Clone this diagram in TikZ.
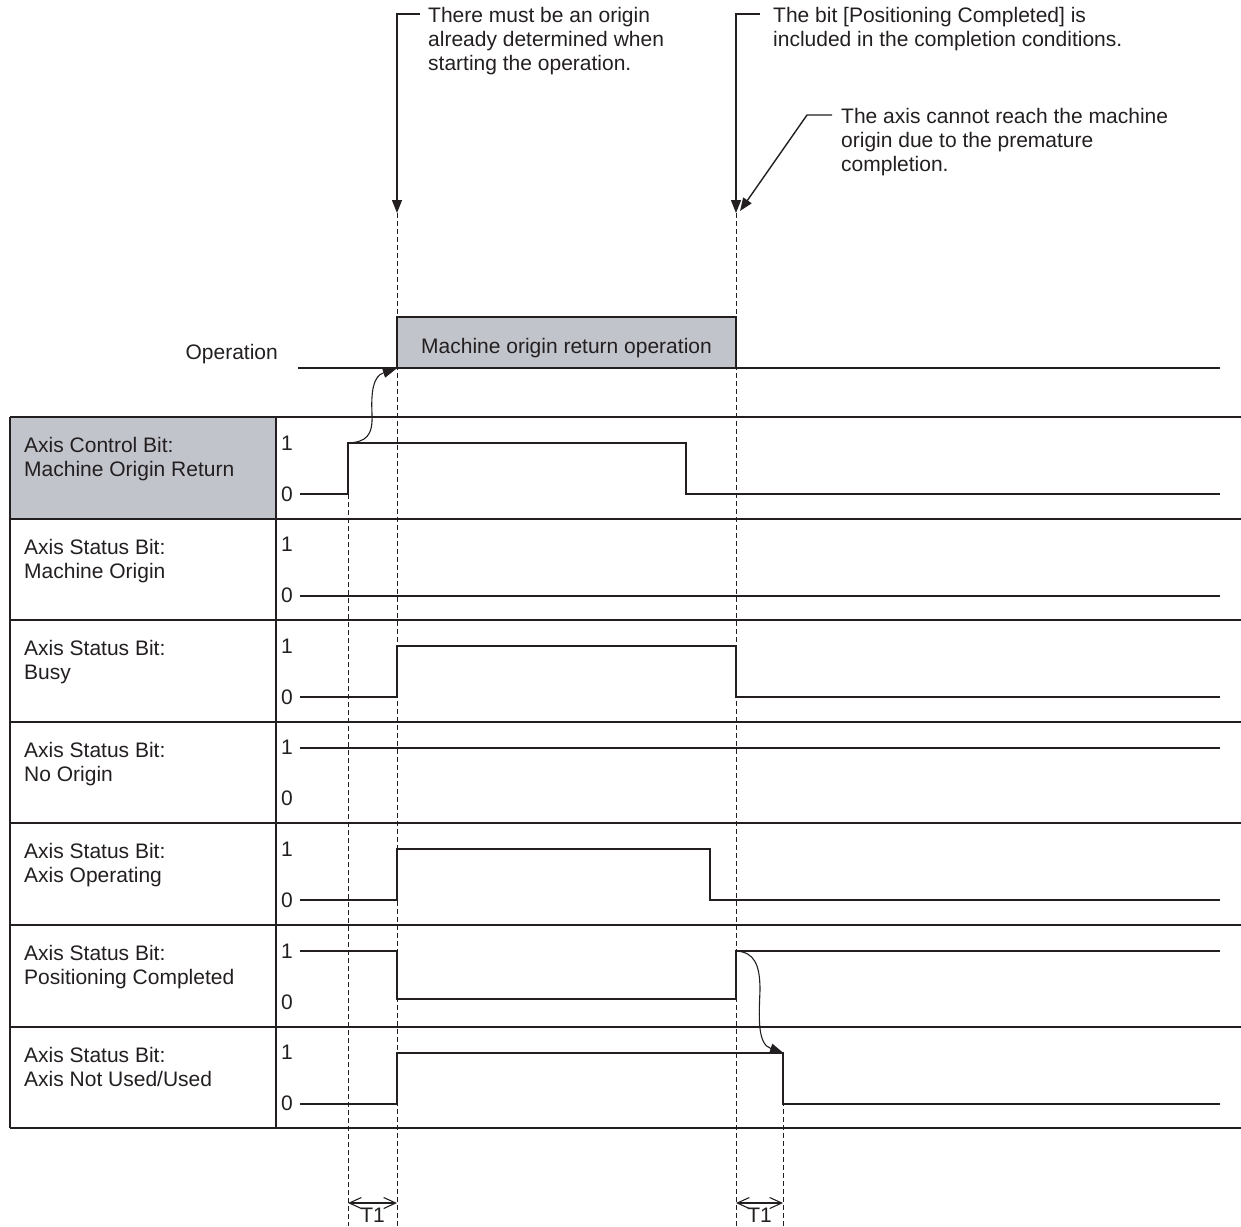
\documentclass[tikz,border=0pt]{standalone}
\usepackage{fontspec}
\setmainfont{Liberation Sans}
\usetikzlibrary{arrows.meta}
\definecolor{ink}{RGB}{35,31,32}
\definecolor{boxgray}{RGB}{194,196,203}
\begin{document}
\begin{tikzpicture}[x=1pt,y=-1pt,
  font=\fontsize{21}{24}\selectfont, text=ink,
  tbl/.style={line width=2pt, draw=ink},
  sig/.style={line width=2pt, draw=ink},
  guide/.style={draw=ink, line width=1pt, dash pattern=on 5pt off 3pt},
  celltext/.style={anchor=north west, align=left, inner sep=0pt},
  lvl/.style={anchor=base west, inner sep=0pt},
  note/.style={anchor=north west, align=left, inner sep=0pt},
  callout/.style={draw=ink, line width=1.4pt, -{Triangle[length=13pt,width=10pt]}},
  causal/.style={draw=ink, line width=1.1pt, -{Triangle[length=13pt,width=10pt]}},
  spanarrow/.style={draw=ink, line width=1.1pt, {Straight Barb[length=12pt,width=11pt]}-{Straight Barb[length=12pt,width=11pt]}}]
\useasboundingbox (0,0) rectangle (1241,1226);

% gray label cell
\fill[boxgray] (10,417) rectangle (276,518.6);

% dashed guides
\draw[guide] (348,494) -- (348,1226);
\draw[guide] (397,213) -- (397,1226);
\draw[guide] (736,213) -- (736,1226);
\draw[guide] (783,1052.6) -- (783,1226);

% table
\foreach \y in {417,518.6,620.2,721.8,823.4,925,1026.6,1128.2}
  \draw[tbl] (10,\y) -- (1241,\y);
\draw[tbl] (10,417) -- (10,1128.2);
\draw[tbl] (276,417) -- (276,1128.2);

% row labels
\node[celltext] (r1) at (24,437) {Axis Control Bit:\\Machine Origin Return};
\node[celltext] (r2) at (24,538.6) {Axis Status Bit:\\Machine Origin};
\node[celltext] (r3) at (24,640.2) {Axis Status Bit:\\Busy};
\node[celltext] (r4) at (24,741.8) {Axis Status Bit:\\No Origin};
\node[celltext] (r5) at (24,843.4) {Axis Status Bit:\\Axis Operating};
\node[celltext] (r6) at (24,945) {Axis Status Bit:\\Positioning Completed};
\node[celltext] (r7) at (24,1046.6) {Axis Status Bit:\\Axis Not Used/Used};

% level labels
\foreach \t [count=\i] in {417,518.6,620.2,721.8,823.4,925,1026.6}{
  \node[lvl] (one\i) at (281,\t+33) {1};
  \node[lvl] (zero\i) at (281,\t+84) {0};
}

% signals
\draw[sig] (300,494) -- (348,494) -- (348,443) -- (686,443) -- (686,494) -- (1220,494);
\draw[sig] (300,595.6) -- (1220,595.6);
\draw[sig] (300,697.2) -- (397,697.2) -- (397,646.2) -- (736,646.2) -- (736,697.2) -- (1220,697.2);
\draw[sig] (300,747.8) -- (1220,747.8);
\draw[sig] (300,900.4) -- (397,900.4) -- (397,849.4) -- (710,849.4) -- (710,900.4) -- (1220,900.4);
\draw[sig] (300,951) -- (397,951) -- (397,999) -- (736,999) -- (736,951) -- (1220,951);
\draw[sig] (300,1103.6) -- (397,1103.6) -- (397,1052.6) -- (783,1052.6) -- (783,1103.6) -- (1220,1103.6);

% operation row
\node[anchor=base east, inner sep=0pt] (oplabel) at (278,359) {Operation};
\draw[sig] (298,367.5) -- (1220,367.5);
\node[draw=ink, line width=2pt, fill=boxgray, minimum width=339pt, minimum height=51pt, inner sep=0pt,
  text height=21pt, text depth=0pt]
  (box) at (566.5,342.5) {Machine origin return operation};

% causal curved arrows
\coordinate (ctlrise) at (348,443);
\coordinate (pcrise) at (736,951);
\coordinate (nufall) at (783,1052.6);
\draw[causal] (ctlrise) .. controls (366,442) and (373,436) .. (372,414)
  .. controls (371,392) and (373,376) .. (box.south west);
\draw[causal] (pcrise) .. controls (754,952) and (760,964) .. (760,990)
  .. controls (759,1016) and (757,1044) .. (nufall);

% top notes
\node[note] (n1) at (428,7) {There must be an origin\\already determined when\\starting the operation.};
\node[note] (n2) at (773,7) {The bit [Positioning Completed] is\\included in the completion conditions.};
\node[note] (n3) at (841,108) {The axis cannot reach the machine\\origin due to the premature\\completion.};
\coordinate (n1k) at (420,14);
\coordinate (n1c) at (397,14);
\coordinate (tip1) at (397,213);
\coordinate (n2k) at (760,14);
\coordinate (n2c) at (736,14);
\coordinate (tip2) at (736,213);
\coordinate (n3k) at (832,115);
\coordinate (n3c) at (807,115);
\coordinate (tip3) at (740,211);
\draw[callout] (n1k) -- (n1c) -- (tip1);
\draw[callout] (n2k) -- (n2c) -- (tip2);
\draw[callout] (n3k) -- (n3c) -- (tip3);

% T1 spans
\coordinate (s1a) at (348,1203);
\coordinate (s1b) at (397,1203);
\coordinate (s2a) at (736,1203);
\coordinate (s2b) at (783,1203);
\draw[spanarrow] (s1a) -- (s1b);
\draw[spanarrow] (s2a) -- (s2b);
\node[anchor=base, inner sep=0pt] (t1a) at (372.5,1222) {T1};
\node[anchor=base, inner sep=0pt] (t1b) at (759.5,1222) {T1};
\end{tikzpicture}
\end{document}
